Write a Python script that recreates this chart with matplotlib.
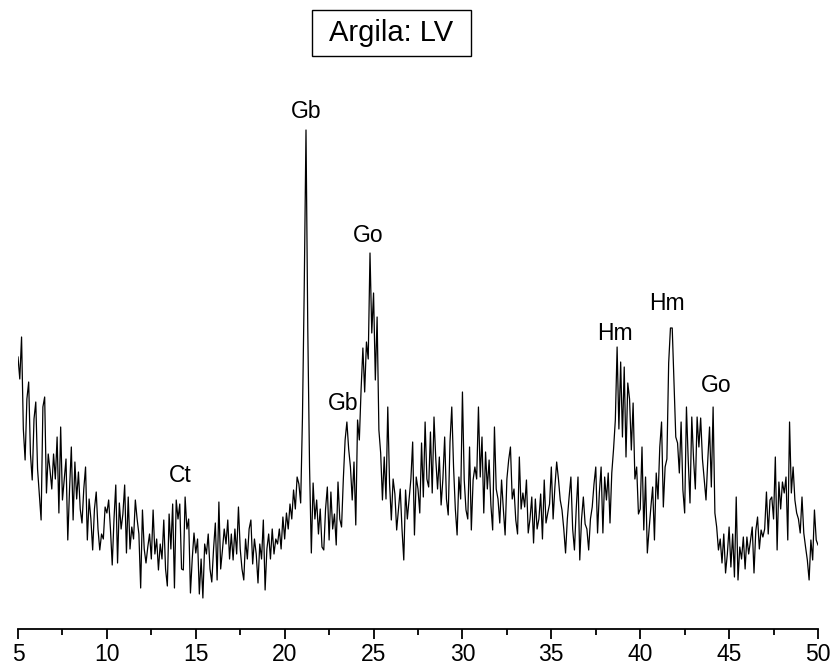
import numpy as np
import matplotlib
matplotlib.use("Agg")
import matplotlib.pyplot as plt
from matplotlib.patches import Rectangle
from matplotlib.ticker import MultipleLocator

plt.rcParams['font.family'] = ['Liberation Sans', 'DejaVu Sans']

# XRD intensities (arbitrary units), step 0.1 deg 2theta starting at 5.0
start_2theta = 5.0
step_2theta = 0.1
seg_05_10 = [272, 250, 292, 200, 169, 230, 247, 175, 149, 210,
             227, 160, 134, 109, 222, 232, 136, 175, 159, 140,
             175, 150, 192, 116, 202, 129, 150, 170, 89, 140,
             182, 109, 167, 130, 157, 120, 106, 140, 162, 89,
             130, 110, 79, 120, 137, 100, 79, 95, 90, 122]
seg_10_15 = [116, 129, 100, 64, 110, 144, 66, 126, 100, 115,
             144, 76, 132, 80, 102, 90, 129, 110, 95, 41,
             119, 80, 66, 82, 95, 70, 119, 75, 90, 59,
             85, 70, 109, 60, 43, 115, 80, 125, 41, 129,
             110, 125, 60, 59, 132, 100, 110, 36, 70, 96]
seg_15_20 = [76, 90, 35, 70, 31, 85, 75, 95, 60, 47,
             80, 106, 49, 127, 60, 79, 100, 85, 109, 70,
             95, 69, 100, 75, 122, 80, 60, 49, 90, 70,
             100, 109, 65, 90, 75, 46, 85, 70, 109, 39,
             80, 95, 70, 100, 75, 90, 85, 100, 80, 112]
seg_20_25 = [90, 116, 100, 125, 110, 139, 120, 152, 145, 126,
             211, 340, 499, 300, 162, 76, 146, 110, 129, 95,
             120, 82, 79, 120, 142, 89, 137, 100, 115, 84,
             147, 110, 102, 150, 189, 207, 180, 162, 129, 167,
             104, 209, 189, 240, 281, 237, 287, 270, 376, 296]
seg_25_30 = [336, 249, 312, 199, 176, 129, 172, 130, 222, 146,
             109, 150, 135, 99, 120, 140, 100, 69, 139, 110,
             130, 150, 187, 94, 152, 140, 116, 186, 132, 207,
             150, 142, 197, 136, 212, 170, 140, 172, 124, 150,
             192, 130, 114, 187, 222, 162, 120, 94, 152, 130]
seg_30_35 = [237, 149, 119, 110, 182, 99, 149, 162, 150, 222,
             152, 192, 116, 177, 140, 169, 124, 99, 202, 140,
             130, 106, 149, 120, 94, 150, 169, 182, 130, 140,
             109, 95, 172, 120, 136, 122, 149, 96, 110, 132,
             86, 130, 100, 110, 135, 90, 149, 106, 116, 125]
seg_35_40 = [162, 110, 142, 167, 150, 129, 119, 100, 76, 110,
             132, 152, 100, 79, 120, 152, 69, 110, 132, 105,
             100, 79, 110, 122, 145, 162, 96, 136, 162, 96,
             152, 129, 156, 106, 156, 180, 209, 282, 200, 267,
             192, 262, 172, 246, 230, 179, 226, 150, 162, 115]
seg_40_45 = [120, 182, 99, 152, 76, 100, 122, 142, 89, 156,
             130, 182, 207, 122, 162, 170, 266, 301, 301, 246,
             192, 186, 156, 207, 139, 116, 222, 169, 126, 212,
             170, 140, 212, 182, 211, 170, 149, 129, 169, 202,
             142, 222, 116, 102, 79, 90, 66, 95, 56, 75]
seg_45_50 = [102, 62, 95, 52, 132, 49, 82, 70, 92, 60,
             92, 75, 88, 102, 56, 98, 112, 80, 99, 92,
             100, 137, 95, 129, 132, 110, 172, 79, 147, 120,
             147, 136, 152, 89, 207, 136, 162, 129, 116, 110,
             96, 132, 96, 82, 69, 49, 89, 69, 119, 89,
             84]

# Phase labels
label_text = ["Gb", "Go", "Gb", "Ct", "Hm", "Hm", "Go"]
label_x = [21.2, 24.72, 23.28, 14.11, 38.57, 41.5, 44.26]
label_y = [517, 393, 226, 153, 295, 325, 243]

title_text = "Argila: LV"
xticks = [5, 10, 15, 20, 25, 30, 35, 40, 45, 50]

intensity = np.array(seg_05_10 + seg_10_15 + seg_15_20 + seg_20_25 + seg_25_30
                     + seg_30_35 + seg_35_40 + seg_40_45 + seg_45_50, dtype=float)
two_theta = start_2theta + step_2theta * np.arange(len(intensity))

W, H = 836, 668
fig = plt.figure(figsize=(W / 100, H / 100), dpi=100)
ax_left, ax_right = 18 / W, 818 / W
ax_bottom = (H - 629) / H
ax_top = (H - 80) / H
ax = fig.add_axes([ax_left, ax_bottom, ax_right - ax_left, ax_top - ax_bottom])

ax.plot(two_theta, intensity, color='black', linewidth=0.9)
ax.set_xlim(5, 50)
ax.set_ylim(0, 549)

for s in ['top', 'left', 'right']:
    ax.spines[s].set_visible(False)
ax.spines['bottom'].set_linewidth(1.3)
ax.set_yticks([])
ax.set_xticks(xticks)
ax.xaxis.set_minor_locator(MultipleLocator(2.5))
ax.tick_params(axis='x', which='major', direction='out', length=7, width=1.3,
               labelsize=16.5, pad=3)
ax.tick_params(axis='x', which='minor', direction='out', length=4, width=1.3)

for t, x, y in zip(label_text, label_x, label_y):
    ax.text(x, y, t, ha='center', va='center', fontsize=16.5)

# Title in a box
box = Rectangle((312 / W, 1 - 56 / H), (471 - 312) / W, (56 - 10) / H,
                transform=fig.transFigure, fill=False, edgecolor='black', linewidth=1.0)
fig.add_artist(box)
fig.text(391.5 / W, 1 - 33 / H, title_text, ha='center', va='center', fontsize=21)

fig.savefig("out.png", dpi=100)
